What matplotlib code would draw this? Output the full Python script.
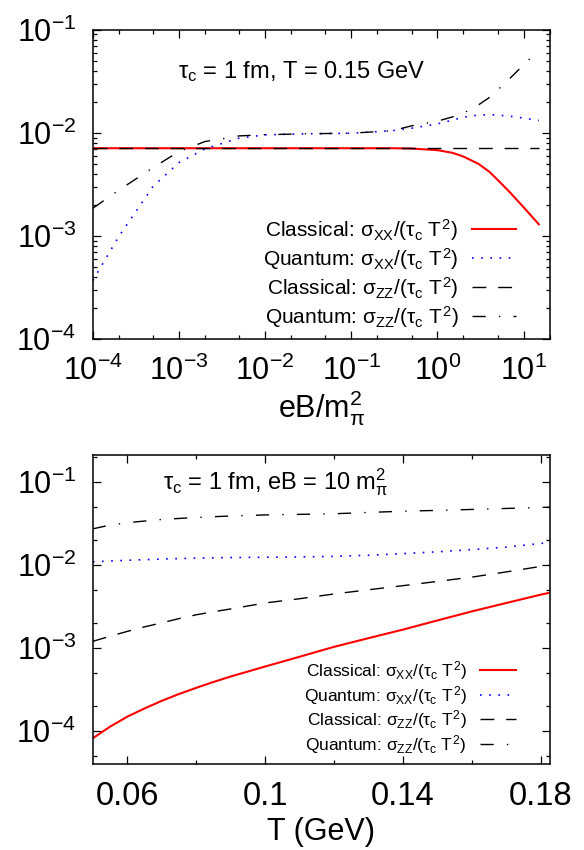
import numpy as np
import matplotlib
matplotlib.use("Agg")
import matplotlib.pyplot as plt
from matplotlib.ticker import LogLocator, FixedLocator, NullFormatter, FixedFormatter

plt.rcParams['font.family'] = ['Liberation Sans', 'DejaVu Sans']
plt.rcParams['mathtext.fontset'] = 'custom'
plt.rcParams['mathtext.rm'] = 'Liberation Sans'
plt.rcParams['mathtext.it'] = 'Liberation Sans'
plt.rcParams['mathtext.bf'] = 'Liberation Sans:bold'

# top panel: vs eB/m_pi^2 at tau_c = 1 fm, T = 0.15 GeV
eB = [1e-4, 2e-4, 5e-4, 1e-3, 2e-3, 5e-3, 1e-2, 3e-2, 0.1, 0.3, 0.5, 1, 1.5, 2, 3, 4, 5, 7, 10, 15]
cl_xx_eB = [7.1e-3, 7.1e-3, 7.1e-3, 7.1e-3, 7.1e-3, 7.1e-3, 7.1e-3, 7.1e-3, 7.1e-3, 7.1e-3,
            7.05e-3, 6.8e-3, 6.4e-3, 5.9e-3, 5.0e-3, 4.2e-3, 3.5e-3, 2.63e-3, 1.9e-3, 1.3e-3]
qu_xx_eB = [3.7e-4, 9.9e-4, 3.03e-3, 5.16e-3, 7.0e-3, 8.9e-3, 9.57e-3, 9.8e-3, 9.93e-3, 1.05e-2,
            1.11e-2, 1.22e-2, 1.33e-2, 1.42e-2, 1.49e-2, 1.5e-2, 1.49e-2, 1.45e-2, 1.39e-2, 1.32e-2]
cl_zz_eB = [7.1e-3, 7.1e-3, 7.1e-3, 7.1e-3, 7.1e-3, 7.1e-3, 7.1e-3, 7.1e-3, 7.1e-3, 7.1e-3,
            7.1e-3, 7.1e-3, 7.1e-3, 7.1e-3, 7.1e-3, 7.1e-3, 7.1e-3, 7.1e-3, 7.1e-3, 7.1e-3]
qu_zz_eB = [1.86e-3, 2.78e-3, 4.6e-3, 6.6e-3, 8.24e-3, 9.35e-3, 9.6e-3, 9.8e-3, 9.93e-3, 1.05e-2,
            1.17e-2, 1.3e-2, 1.43e-2, 1.55e-2, 1.87e-2, 2.2e-2, 2.61e-2, 3.4e-2, 4.57e-2, 6.4e-2]

# bottom panel: vs T at tau_c = 1 fm, eB = 10 m_pi^2
T = [0.05, 0.055, 0.06, 0.065, 0.07, 0.075, 0.08, 0.085, 0.09, 0.1, 0.11, 0.12, 0.13, 0.14,
     0.15, 0.16, 0.17, 0.18, 0.1825]
cl_xx_T = [8.2e-5, 1.13e-4, 1.49e-4, 1.87e-4, 2.31e-4, 2.79e-4, 3.31e-4, 3.89e-4, 4.53e-4, 5.97e-4,
           7.83e-4, 1.03e-3, 1.31e-3, 1.66e-3, 2.14e-3, 2.75e-3, 3.47e-3, 4.37e-3, 4.6e-3]
qu_xx_T = [1.08e-2, 1.11e-2, 1.13e-2, 1.15e-2, 1.17e-2, 1.185e-2, 1.2e-2, 1.21e-2, 1.22e-2, 1.23e-2,
           1.24e-2, 1.26e-2, 1.3e-2, 1.36e-2, 1.43e-2, 1.52e-2, 1.63e-2, 1.8e-2, 1.87e-2]
cl_zz_T = [1.2e-3, 1.38e-3, 1.58e-3, 1.79e-3, 2.0e-3, 2.25e-3, 2.5e-3, 2.72e-3, 2.94e-3, 3.47e-3,
           3.9e-3, 4.45e-3, 5.0e-3, 5.6e-3, 6.3e-3, 7.1e-3, 8.2e-3, 9.55e-3, 9.9e-3]
qu_zz_T = [2.7e-2, 3.0e-2, 3.2e-2, 3.35e-2, 3.5e-2, 3.6e-2, 3.7e-2, 3.78e-2, 3.85e-2, 3.97e-2,
           4.03e-2, 4.1e-2, 4.25e-2, 4.4e-2, 4.5e-2, 4.62e-2, 4.75e-2, 4.88e-2, 4.92e-2]

T_ticks = [0.06, 0.1, 0.14, 0.18]
T_labels = ['0.06', '0.1', '0.14', '0.18']

labels = [r'Classical: $\sigma_{XX}/(\tau_c\ T^2)$',
          r'Quantum: $\sigma_{XX}/(\tau_c\ T^2)$',
          r'Classical: $\sigma_{ZZ}/(\tau_c\ T^2)$',
          r'Quantum: $\sigma_{ZZ}/(\tau_c\ T^2)$']
dotted = (0, (1, 4.5))
dashed = (0, (10, 8.5))
dashdot = (0, (9.5, 9.5, 1, 9.5))

fig = plt.figure(figsize=(5.84, 8.5), dpi=100)
ax1 = fig.add_axes([0.159, 0.601, 0.782, 0.364])
ax2 = fig.add_axes([0.159, 0.101, 0.782, 0.364])


def style(ax):
    for s in ax.spines.values():
        s.set_linewidth(1.1)
    ax.tick_params(which='both', direction='in', top=True, right=True, labelsize=22, width=0.9)
    ax.tick_params(which='major', length=6, pad=12)
    ax.tick_params(which='minor', length=3)


# top panel
ax1.plot(eB, cl_xx_eB, color='red', lw=1.5, label=labels[0])
ax1.plot(eB, qu_xx_eB, color='blue', lw=1.2, ls=dotted, label=labels[1])
ax1.plot(eB, cl_zz_eB, color='black', lw=1.0, ls=dashed, label=labels[2])
ax1.plot(eB, qu_zz_eB, color='black', lw=1.0, ls=dashdot, label=labels[3])
ax1.set_xscale('log')
ax1.set_yscale('log')
ax1.set_xlim(1e-4, 20)
ax1.set_ylim(1e-4, 1e-1)
ax1.xaxis.set_major_locator(LogLocator(base=10, numticks=10))
ax1.xaxis.set_minor_locator(LogLocator(base=10, subs=[2, 5], numticks=20))
ax1.yaxis.set_minor_locator(LogLocator(base=10, subs=np.arange(2, 10), numticks=20))
ax1.xaxis.set_minor_formatter(NullFormatter())
ax1.yaxis.set_minor_formatter(NullFormatter())
style(ax1)
ax1.set_xlabel(r'eB/m$_\pi^2$', fontsize=22, labelpad=1)
ax1.text(0.458, 0.865, r'$\tau_c$ = 1 fm, T = 0.15 GeV', transform=ax1.transAxes,
         ha='center', va='center', fontsize=17)
ax1.legend(loc='lower right', bbox_to_anchor=(0.927, 0.03), frameon=False, markerfirst=False,
           fontsize=15, handlelength=2.1, handletextpad=0.67, labelspacing=0.15, borderpad=0,
           borderaxespad=0)

# bottom panel
ax2.plot(T, cl_xx_T, color='red', lw=1.5, label=labels[0])
ax2.plot(T, qu_xx_T, color='blue', lw=1.2, ls=dotted, label=labels[1])
ax2.plot(T, cl_zz_T, color='black', lw=1.0, ls=dashed, label=labels[2])
ax2.plot(T, qu_zz_T, color='black', lw=1.0, ls=dashdot, label=labels[3])
ax2.set_yscale('log')
ax2.set_xlim(0.05, 0.1825)
ax2.set_ylim(4e-5, 0.21)
ax2.xaxis.set_major_locator(FixedLocator(T_ticks))
ax2.xaxis.set_major_formatter(FixedFormatter(T_labels))
ax2.xaxis.set_minor_locator(FixedLocator([0.08, 0.12, 0.16]))
ax2.yaxis.set_minor_locator(LogLocator(base=10, subs=[2, 5], numticks=20))
ax2.yaxis.set_minor_formatter(NullFormatter())
style(ax2)
ax2.tick_params(axis='x', labelsize=23.5)
ax2.set_xlabel('T (GeV)', fontsize=22, labelpad=4)
ax2.text(0.40, 0.913, r'$\tau_c$ = 1 fm, eB = 10 m$_\pi^2$', transform=ax2.transAxes,
         ha='center', va='center', fontsize=17)
ax2.legend(loc='lower right', bbox_to_anchor=(0.927, 0.027), frameon=False, markerfirst=False,
           fontsize=12.5, handlelength=2.1, handletextpad=0.75, labelspacing=0.1, borderpad=0,
           borderaxespad=0)

fig.savefig('out.png', dpi=100)
